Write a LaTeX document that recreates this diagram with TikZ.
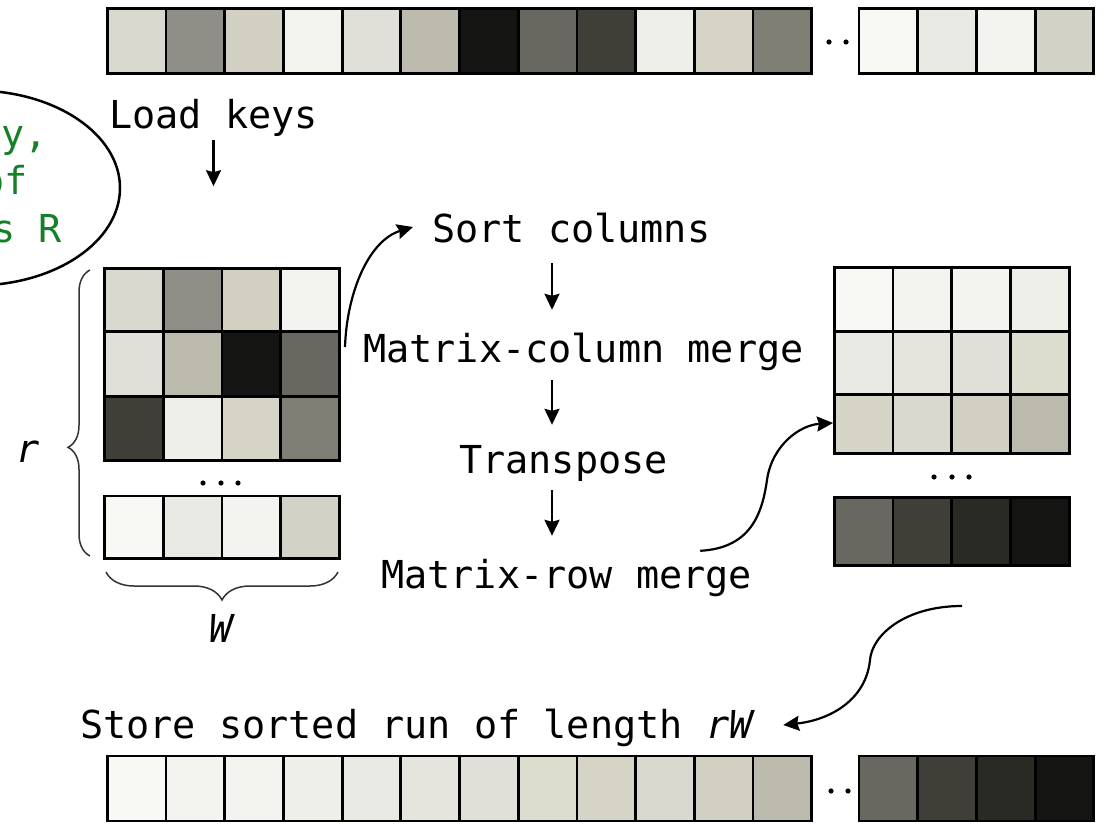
\documentclass[tikz,border=0pt]{standalone}
\usepackage{fontspec}
\setmonofont{DejaVu Sans Mono}[ItalicFont={DejaVu Sans Mono Oblique}]
\usetikzlibrary{arrows.meta,decorations.pathreplacing,calc}

% key shades, light to dark
\definecolor{g01}{HTML}{F8F8F5}
\definecolor{g02}{HTML}{F3F4EF}
\definecolor{g03}{HTML}{EFEFEA}
\definecolor{g04}{HTML}{E9EAE4}
\definecolor{g05}{HTML}{E5E5DD}
\definecolor{g06}{HTML}{E0E0D8}
\definecolor{g07}{HTML}{DCDCCF}
\definecolor{g08}{HTML}{D6D4C7}
\definecolor{g09}{HTML}{D9D9CF}
\definecolor{g10}{HTML}{D2D0C2}
\definecolor{g11}{HTML}{BCBAAD}
\definecolor{g12}{HTML}{8F8F87}
\definecolor{g13}{HTML}{7E7E75}
\definecolor{g14}{HTML}{696860}
\definecolor{g15}{HTML}{3F3F38}
\definecolor{g16}{HTML}{2A2A25}
\definecolor{g17}{HTML}{141412}
\definecolor{g18}{HTML}{D3D2C6}
\definecolor{inkgreen}{RGB}{22,128,40}

\tikzset{
  cellline/.style={draw=black, line width=2.8pt},
  lbl/.style={font=\fontsize{38.5}{46}\selectfont\ttfamily, inner sep=0pt,
              anchor=base west, text height=29pt, text depth=9pt},
  note/.style={lbl, anchor=base east, text=inkgreen},
  arr/.style={line width=2.2pt, -{Stealth[length=16pt,width=15pt,inset=2pt]}},
  bracedeco/.style={decorate, line width=1.5pt, draw=black!80},
  keydot/.style={fill=black},
}

% one row of key cells: left x, top y, row height, list of shades
\newcommand\cellrow[4]{%
  \foreach \c [count=\i from 0] in {#4}{%
    \filldraw[fill=\c, cellline] ({#1+\i*58.7},#2) rectangle ++(58.7,#3);}}

\begin{document}
\begin{tikzpicture}[x=1pt, y=-1pt]
\useasboundingbox (0,0) rectangle (1112,824);
\clip (0,0) rectangle (1112,824);

% note bubble on the left
\draw[line width=2.5pt] (-25,188) ellipse [x radius=145pt, y radius=97.5pt];
\node[note] (n1) at (48,148) {y,};
\node[note] (n2) at (28,195) {of};
\node[note] (n3) at (62,242) {s R};

% unsorted input keys
\cellrow{107.3}{8.3}{65}{g09,g12,g10,g02,g06,g11,g17,g14,g15,g03,g08,g13}
\cellrow{859}{8.3}{65}{g01,g04,g02,g18}
\fill[keydot] (829,42) circle (2.6pt) (846,42) circle (2.6pt);

% loaded r x W matrix
\cellrow{104.5}{268.3}{63.4}{g09,g12,g10,g02}
\cellrow{104.5}{331.7}{65}{g06,g11,g17,g14}
\cellrow{104.5}{396.7}{64}{g15,g03,g08,g13}
\cellrow{104.5}{496}{62.3}{g01,g04,g02,g18}
\fill[keydot] (203,483) circle (2.6pt) (221,483) circle (2.6pt) (238,483) circle (2.6pt);

% sorted matrix
\cellrow{834.3}{267.3}{64.4}{g01,g02,g02,g03}
\cellrow{834.3}{331.7}{62.6}{g04,g05,g06,g07}
\cellrow{834.3}{394.3}{59}{g08,g09,g10,g11}
\cellrow{834.3}{497.3}{68}{g14,g15,g16,g17}
\fill[keydot] (934,477) circle (2.6pt) (952,477) circle (2.6pt) (969,477) circle (2.6pt);

% sorted output run
\cellrow{107.3}{756}{65}{g01,g02,g02,g03,g04,g05,g06,g07,g08,g09,g10,g11}
\cellrow{859}{756}{65}{g14,g15,g16,g17}
\fill[keydot] (831,791) circle (2.6pt) (848,791) circle (2.6pt);

% dimension braces
\draw[bracedeco, decoration={brace, amplitude=22pt, aspect=0.38}] (90,556) -- (90,270);
\draw[bracedeco, decoration={brace, amplitude=28pt, aspect=0.5}] (338,572) -- (106,572);
\node[lbl] (rlab) at (16,462) {\itshape r};
\node[lbl, anchor=base] (wlab) at (221,642) {\itshape W};

% step labels
\node[lbl] (loadkeys) at (109,129) {Load keys};
\node[lbl] (sortcols) at (432,242) {Sort columns};
\node[lbl] (colmerge) at (363,362) {Matrix-column merge};
\node[lbl] (transpose) at (459,473) {Transpose};
\node[lbl] (rowmerge) at (381,588) {Matrix-row merge};
\node[lbl] (store) at (80,738) {Store sorted run of length \textit{rW}};

% anchor points on the matrices
\coordinate (ax) at (552,0);
\coordinate (lmR) at (345,347);
\coordinate (rmL) at (833,423);
\coordinate (rmB) at (962,606);

% connectors
\draw[arr] ([yshift=-2pt]loadkeys.south) -- ++(0,46);
\draw[arr, shorten <=12pt, shorten >=23pt] (sortcols.south -| ax) -- (colmerge.north -| ax);
\draw[arr, shorten <=9pt, shorten >=19pt] (colmerge.south -| ax) -- (transpose.north -| ax);
\draw[arr, shorten <=8pt, shorten >=23pt] (transpose.south -| ax) -- (rowmerge.north -| ax);

\draw[arr] (lmR) .. controls (347,290) and (370,240) .. ([shift={(-19,-5)}]sortcols.west);
\draw[arr] ([shift={(-52,-8)}]rowmerge.north east) .. controls (750,548) and (762,515) .. (767,480)
  .. controls (772,445) and (800,425) .. (rmL);
\draw[arr] (rmB) .. controls (905,606) and (872,635) .. (870,660)
  .. controls (866,700) and (830,720) .. ([shift={(28,-3)}]store.east);
\end{tikzpicture}
\end{document}
